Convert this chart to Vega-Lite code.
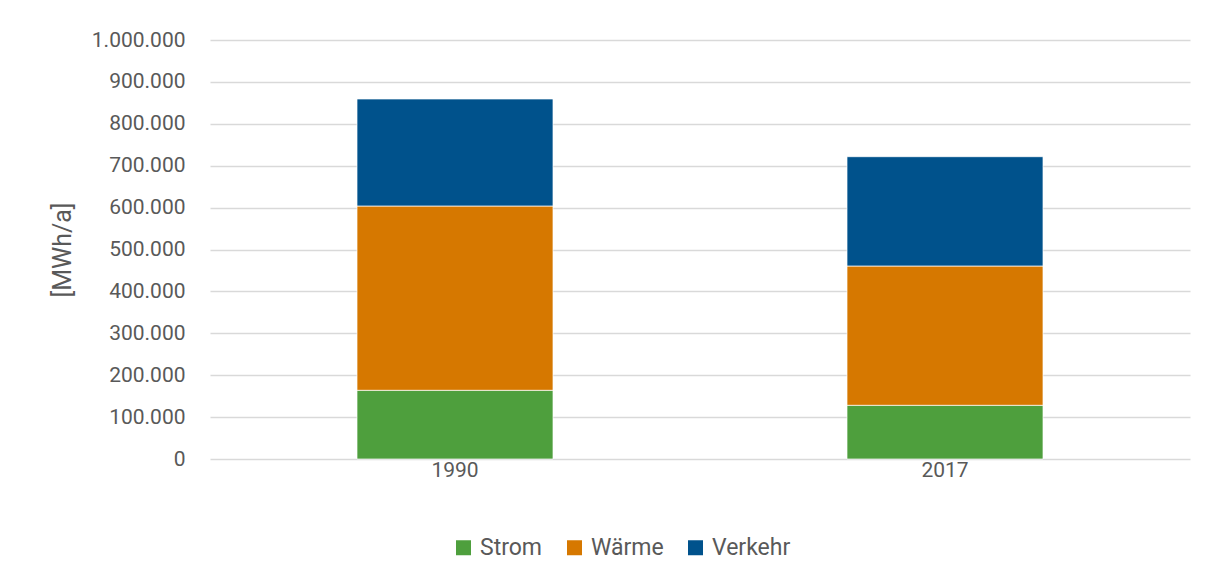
{
  "$schema": "https://vega.github.io/schema/vega-lite/v6.json",
  "width": 980,
  "height": 419,
  "autosize": {"type": "none"},
  "padding": {"left": 210, "top": 40, "right": 18, "bottom": 119},
  "background": "white",
  "config": {
    "locale": {"number": {"decimal": ",", "thousands": ".", "grouping": [3], "currency": ["", " €"]}},
    "view": {"stroke": null},
    "font": "Roboto",
    "axis": {"labelFont": "Roboto", "titleFont": "Roboto", "labelColor": "#595959", "titleColor": "#595959", "labelFontSize": 21, "titleFontSize": 25, "titleFontWeight": "normal"},
    "legend": {"labelFont": "Roboto", "labelColor": "#595959", "labelFontSize": 23}
  },
  "data": {
    "values": [
      {"Jahr": "1990", "Sektor": "Strom", "Reihenfolge": 1, "Wert": 164000},
      {"Jahr": "1990", "Sektor": "Wärme", "Reihenfolge": 2, "Wert": 439800},
      {"Jahr": "1990", "Sektor": "Verkehr", "Reihenfolge": 3, "Wert": 255400},
      {"Jahr": "2017", "Sektor": "Strom", "Reihenfolge": 1, "Wert": 128200},
      {"Jahr": "2017", "Sektor": "Wärme", "Reihenfolge": 2, "Wert": 332400},
      {"Jahr": "2017", "Sektor": "Verkehr", "Reihenfolge": 3, "Wert": 260900}
    ]
  },
  "mark": {"type": "bar", "stroke": "white", "strokeWidth": 0.7},
  "encoding": {
    "x": {
      "field": "Jahr",
      "type": "nominal",
      "scale": {"paddingInner": 0.6, "paddingOuter": 0.3},
      "axis": {"title": null, "labelAngle": 0, "ticks": false, "domain": false, "labelPadding": 0, "grid": false}
    },
    "y": {
      "field": "Wert",
      "type": "quantitative",
      "stack": "zero",
      "scale": {"domain": [0, 1000000], "nice": false},
      "axis": {
        "title": "[MWh/a]",
        "format": ",d",
        "values": [0, 100000, 200000, 300000, 400000, 500000, 600000, 700000, 800000, 900000, 1000000],
        "ticks": false,
        "domain": false,
        "labelPadding": 25,
        "titlePadding": 16,
        "gridColor": "#d9d9d9",
        "gridWidth": 1.5
      }
    },
    "color": {
      "field": "Sektor",
      "type": "nominal",
      "sort": ["Strom", "Wärme", "Verkehr"],
      "scale": {"domain": ["Strom", "Wärme", "Verkehr"], "range": ["#4e9f3d", "#d67800", "#00528c"]},
      "legend": {
        "title": null,
        "orient": "none",
        "direction": "horizontal",
        "legendX": 242,
        "legendY": 496,
        "symbolType": "square",
        "symbolSize": 225,
        "symbolStrokeWidth": 0,
        "symbolOpacity": 1,
        "labelOffset": 5,
        "columnPadding": 20
      }
    },
    "order": {"field": "Reihenfolge", "type": "quantitative"}
  }
}
